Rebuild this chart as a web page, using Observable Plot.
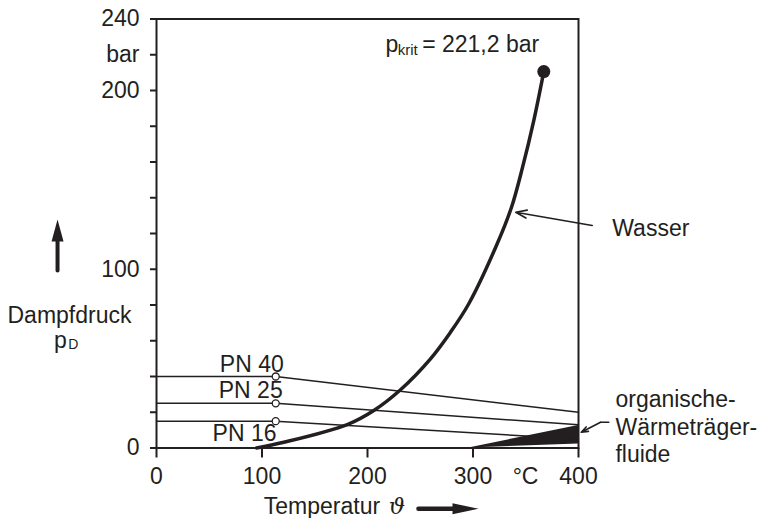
<!DOCTYPE html>
<html><head><meta charset="utf-8">
<script src="https://cdn.jsdelivr.net/npm/d3@7"></script>
<script src="https://cdn.jsdelivr.net/npm/@observablehq/plot@0.6"></script>
<style>body{margin:0;background:#fff}</style>
</head><body><div id="chart"></div>
<script>
// Wasser vapour pressure curve
const waterT = [94.8, 120.7, 180.8, 206, 231.3, 259.7, 278.7, 296, 321.5, 336.5, 347, 357.6, 367.1];
const waterP = [0, 3.2, 13.1, 21, 32.6, 49.9, 64.8, 80.7, 112.3, 134.7, 157.1, 183.2, 210.6];
// critical point
const critT = [367.1];
const critP = [210.6];
// nominal pressure lines
const pnLabels = ["PN 40", "PN 25", "PN 16"];
const pnLevel = [40, 25, 15];
const pnKneeT = [113, 113, 113];
const pnEndT = [400, 400, 400];
const pnEnd = [20, 13, 5];
// organic heat transfer fluids band
const orgT = [296, 400];
const orgLow = [0, 2.3];
const orgHigh = [0, 12.6];
// ticks
const xTicks = [0, 100, 200, 300, 400];
const yTicks = [0, 20, 40, 60, 80, 100, 120, 140, 160, 180, 200, 220, 240];
const yTickLabels = {0: "0", 100: "100", 200: "200", 220: "bar", 240: "240"};

const water = waterT.map((t, i) => ({t, p: waterP[i]}));
const pnSegs = [];
pnLabels.forEach((l, i) => {
  pnSegs.push({k: l, t: 0, p: pnLevel[i]});
  pnSegs.push({k: l, t: pnKneeT[i], p: pnLevel[i]});
  pnSegs.push({k: l, t: pnEndT[i], p: pnEnd[i]});
});
const knees = pnLabels.map((l, i) => ({t: pnKneeT[i], p: pnLevel[i]}));
const org = orgT.map((t, i) => ({t, lo: orgLow[i], hi: orgHigh[i]}));

const head = (L, W) => ({draw(ctx) { ctx.moveTo(0, 0); ctx.lineTo(W / 2, L); ctx.lineTo(-W / 2, L); ctx.closePath(); }});
const FONT = "'Liberation Sans', Arial, Helvetica, sans-serif";
const fs = 23;

const chart = Plot.plot({
  width: 766, height: 518,
  marginLeft: 156, marginRight: 188, marginTop: 18.5, marginBottom: 70.5,
  style: {fontFamily: FONT, fontSize: fs + "px", color: "#231f20", background: "#fff"},
  x: {domain: [0, 400]},
  y: {domain: [0, 240]},
  marks: [
    Plot.areaY(org, {x: "t", y1: "lo", y2: "hi", fill: "#231f20"}),
    Plot.line(pnSegs, {x: "t", y: "p", z: "k", stroke: "#231f20", strokeWidth: 1.5}),
    Plot.dot(knees, {x: "t", y: "p", r: 3.5, fill: "white", stroke: "#231f20", strokeWidth: 1.3}),
    Plot.line(water, {x: "t", y: "p", curve: "catmull-rom", stroke: "#231f20", strokeWidth: 3.5}),
    Plot.dot(critT.map((t, i) => ({t, p: critP[i]})), {x: "t", y: "p", r: 6.5, fill: "#231f20"}),
    Plot.frame({stroke: "#231f20", strokeWidth: 2}),
    Plot.axisY({ticks: yTicks, tickFormat: d => yTickLabels[d] ?? "", tickSize: 6, tickPadding: 11, strokeWidth: 2, fontSize: fs, label: null}),
    Plot.axisX({ticks: xTicks, tickFormat: d => String(d), tickSize: 10, tickPadding: 10, strokeWidth: 2, fontSize: fs, label: null}),
    // PN labels
    Plot.text(pnLabels.map((l, i) => ({l, t: [90.3, 89.3, 83.5][i], p: [46.7, 31.9, 7.8][i]})), {x: "t", y: "p", text: "l", fontSize: fs, fill: "#231f20"}),
    // critical pressure label
    Plot.text([{t: 217, p: 221.8, s: "p"}], {x: "t", y: "p", text: "s", textAnchor: "start", lineAnchor: "bottom", fontSize: fs, fill: "#231f20"}),
    Plot.text([{t: 228.6, p: 219.6, s: "krit"}], {x: "t", y: "p", text: "s", textAnchor: "start", lineAnchor: "bottom", fontSize: 15, fill: "#231f20"}),
    Plot.text([{t: 251.8, p: 221.8, s: "= 221,2 bar"}], {x: "t", y: "p", text: "s", textAnchor: "start", lineAnchor: "bottom", fontSize: fs, fill: "#231f20"}),
    // Wasser
    Plot.arrow([{x1: 413, y1: 124.5, x2: 340.5, y2: 131.9}], {x1: "x1", y1: "y1", x2: "x2", y2: "y2", stroke: "#231f20", strokeWidth: 1.6, headLength: 11, headAngle: 40}),
    Plot.text([{t: 432, p: 118.5, s: "Wasser"}], {x: "t", y: "p", text: "s", textAnchor: "start", lineAnchor: "bottom", fontSize: fs, fill: "#231f20"}),
    // organic fluids
    Plot.line([{t: 428.7, p: 14.4}, {t: 420.9, p: 14.4}], {x: "t", y: "p", stroke: "#231f20", strokeWidth: 1.6}),
    Plot.arrow([{x1: 420.9, y1: 14.4, x2: 402.6, y2: 8.8}], {x1: "x1", y1: "y1", x2: "x2", y2: "y2", stroke: "#231f20", strokeWidth: 1.6, headLength: 10, headAngle: 40}),
    Plot.text([{t: 435, p: -7.9, s: "organische-\nWärmeträger-\nfluide"}], {x: "t", y: "p", text: "s", textAnchor: "start", lineAnchor: "bottom", lineHeight: 1.2, fontSize: fs, fill: "#231f20"}),
    // x label
    Plot.text([{t: 349.8, p: -11.2, s: "°C"}], {x: "t", y: "p", text: "s", lineAnchor: "top", fontSize: fs, fill: "#231f20"}),
    Plot.text([{t: 101.7, p: -37.2, s: "Temperatur"}], {x: "t", y: "p", text: "s", textAnchor: "start", lineAnchor: "bottom", fontSize: fs, fill: "#231f20"}),
    Plot.text([{t: 220.2, p: -37.2, s: "ϑ"}], {x: "t", y: "p", text: "s", textAnchor: "start", lineAnchor: "bottom", fontSize: fs, fontStyle: "italic", fontFamily: "'DejaVu Serif', serif", fill: "#231f20"}),
    Plot.line([{t: 248.3, p: -34}, {t: 283, p: -34}], {x: "t", y: "p", stroke: "#231f20", strokeWidth: 4.5}),
    Plot.dot([{t: 305.2, p: -34}], {x: "t", y: "p", r: 5, symbol: head(26, 11), rotate: 90, fill: "#231f20", stroke: "none"}),
    // y label
    Plot.text([{t: -82.5, p: 70.2, s: "Dampfdruck"}], {x: "t", y: "p", text: "s", lineAnchor: "bottom", fontSize: fs, fill: "#231f20"}),
    Plot.text([{t: -97.2, p: 56.2, s: "p"}], {x: "t", y: "p", text: "s", textAnchor: "start", lineAnchor: "bottom", fontSize: fs, fill: "#231f20"}),
    Plot.text([{t: -83.6, p: 55.4, s: "D"}], {x: "t", y: "p", text: "s", textAnchor: "start", lineAnchor: "bottom", fontSize: 14, fill: "#231f20"}),
    Plot.line([{t: -93.8, p: 99.3}, {t: -93.8, p: 117}], {x: "t", y: "p", stroke: "#231f20", strokeWidth: 4}),
    Plot.dot([{t: -93.8, p: 127.8}], {x: "t", y: "p", r: 5, symbol: head(22, 12), fill: "#231f20", stroke: "none"})
  ]
});
document.getElementById("chart").appendChild(chart);
</script>
</body></html>
